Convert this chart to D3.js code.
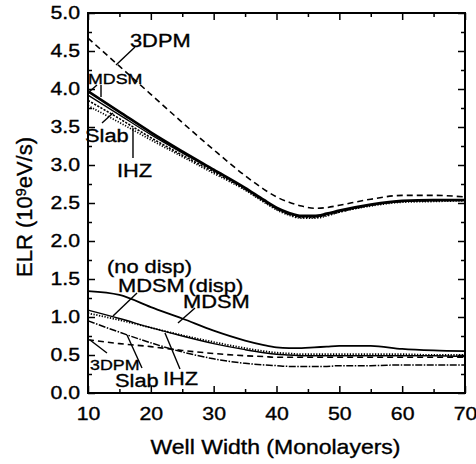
<!DOCTYPE html>
<html><head><meta charset="utf-8">
<script src="https://cdn.jsdelivr.net/npm/d3@7"></script>
<style>
html,body{margin:0;padding:0;background:#fff;}
svg{display:block;}
text{font-family:"Liberation Sans",Arial,Helvetica,sans-serif;fill:#000;stroke:#000;stroke-width:0.35px;}
</style></head>
<body><svg id="c" width="476" height="464"></svg>
<script>
// ---- data ----
const wellWidth = [10,15,20,25,30,35,38,40,42,44,46,48,50,55,60,65,70];
// upper group
const upMDSM     = [3.97,3.70,3.43,3.18,2.94,2.70,2.54,2.44,2.37,2.33,2.33,2.36,2.40,2.48,2.53,2.54,2.54];
const upMDSM2    = [3.92,3.66,3.40,3.16,2.93,2.69,2.53,2.43,2.36,2.32,2.32,2.35,2.39,2.47,2.52,2.53,2.53];
const upSlab     = [3.85,3.61,3.36,3.13,2.91,2.68,2.52,2.42,2.35,2.31,2.31,2.34,2.38,2.47,2.52,2.53,2.54];
const upIHZ      = [3.78,3.56,3.33,3.11,2.89,2.67,2.51,2.41,2.34,2.30,2.30,2.33,2.38,2.46,2.51,2.52,2.53];
const up3DPM     = [4.67,4.30,3.93,3.56,3.20,2.86,2.68,2.58,2.51,2.46,2.43,2.44,2.47,2.55,2.60,2.60,2.58];
// lower group
const loMDSMdisp   = [1.34,1.29,1.13,0.98,0.82,0.69,0.63,0.60,0.59,0.59,0.60,0.61,0.62,0.62,0.58,0.56,0.55];
const loMDSMnodisp = [1.09,0.98,0.86,0.75,0.65,0.57,0.53,0.51,0.50,0.49,0.49,0.49,0.49,0.49,0.49,0.49,0.48];
const loIHZ        = [1.05,0.96,0.86,0.76,0.67,0.59,0.55,0.53,0.52,0.51,0.51,0.51,0.51,0.51,0.51,0.50,0.50];
const lo3DPM       = [0.70,0.65,0.61,0.56,0.52,0.49,0.48,0.47,0.47,0.47,0.47,0.47,0.47,0.47,0.47,0.47,0.47];
const loSlab       = [0.95,0.80,0.66,0.54,0.45,0.39,0.37,0.36,0.35,0.35,0.35,0.35,0.36,0.36,0.37,0.37,0.37];

const xTicks = [10,20,30,40,50,60,70];
const xMinor = [15,25,35,45,55,65];
const yTicks = [0,0.5,1,1.5,2,2.5,3,3.5,4,4.5,5];
const yMinor = [0.25,0.75,1.25,1.75,2.25,2.75,3.25,3.75,4.25,4.75];

// annotation labels: [text, x, y] in data units
const labels = [
  ["3DPM", 16.68, 4.553, "big"],
  ["MDSM", 10.0, 4.066, "small"],
  ["Slab", 9.52, 3.303, "big"],
  ["IHZ", 14.62, 2.842, "big"],
  ["(no disp)", 13.02, 1.579, "big"],
  ["MDSM", 14.77, 1.329, "big"],
  ["(disp)", 26.0, 1.329, "big"],
  ["MDSM", 25.12, 1.118, "big"],
  ["3DPM", 10.32, 0.303, "small"],
  ["Slab", 14.30, 0.079, "big"],
  ["IHZ", 21.94, 0.105, "big"]
];
// leader lines: [x1,y1,x2,y2] in data units
const leaders = [
  [17.48,4.553,14.46,4.316],
  [11.43,4.053,10.16,3.961],
  [12.07,4.053,12.07,3.895],
  [12.23,3.553,13.98,3.684],
  [17.16,3.487,17.16,3.092],
  [17.80,1.316,13.98,1.013],
  [27.03,1.118,24.32,0.921],
  [13.02,0.526,10.32,0.697],
  [18.59,0.329,16.21,0.763],
  [24.64,0.316,22.25,0.789]
];

// ---- layout ----
const W = 476, H = 464;
const m = {left:88, top:13, right:11, bottom:71};
const SX = 1.15; // horizontal glyph stretch
const svg = d3.select("#c");
const x = d3.scaleLinear().domain([10,70]).range([m.left, W-m.right]);
const y = d3.scaleLinear().domain([0,5]).range([H-m.bottom, m.top]);

const series = [
  {v:up3DPM, w:1.6, dash:"6,4"},
  {v:upIHZ, w:1.7, dash:"1.2,1.6"},
  {v:upSlab, w:1.6, dash:"2.2,1.4"},
  {v:upMDSM2, w:1.3, dash:null},
  {v:upMDSM, w:2.6, dash:null},
  {v:loSlab, w:1.5, dash:"7,1.5,1.5,1.5"},
  {v:lo3DPM, w:1.6, dash:"6,4"},
  {v:loIHZ, w:1.8, dash:"1.3,1.5"},
  {v:loMDSMnodisp, w:1.4, dash:null},
  {v:loMDSMdisp, w:1.8, dash:null}
];
const line = d3.line().x((d,i)=>x(wellWidth[i])).y(d=>y(d)).curve(d3.curveMonotoneX);
const g = svg.append("g");
series.forEach(s=>{
  g.append("path").datum(s.v).attr("d",line)
   .attr("fill","none").attr("stroke","#000").attr("stroke-width",s.w)
   .attr("stroke-dasharray",s.dash).attr("stroke-linejoin","round");
});

// axes
function styleAxis(sel){ sel.select(".domain").remove(); sel.selectAll("line").attr("stroke","#000").attr("stroke-width",1.5); }
const bot = svg.append("g").attr("transform",`translate(0,${y(0)})`)
  .call(d3.axisBottom(x).tickValues(xTicks).tickSize(-7).tickPadding(14).tickFormat(d3.format("d")));
styleAxis(bot);
bot.selectAll("text").attr("font-size",18.5).attr("transform",`scale(${SX},1)`).attr("font-family",null);
svg.append("g").attr("transform",`translate(0,${y(0)})`)
  .call(d3.axisBottom(x).tickValues(xMinor).tickSize(-4).tickFormat("")).call(styleAxis);
svg.append("g").attr("transform",`translate(0,${y(5)})`)
  .call(d3.axisTop(x).tickValues(xTicks).tickSize(-7).tickFormat("")).call(styleAxis);
svg.append("g").attr("transform",`translate(0,${y(5)})`)
  .call(d3.axisTop(x).tickValues(xMinor).tickSize(-4).tickFormat("")).call(styleAxis);
const lef = svg.append("g").attr("transform",`translate(${x(10)},0)`)
  .call(d3.axisLeft(y).tickValues(yTicks).tickSize(-7).tickPadding(7).tickFormat(d3.format(".1f")));
styleAxis(lef);
lef.selectAll("text").attr("font-size",18.5).attr("transform",`scale(${SX},1)`).attr("font-family",null);
svg.append("g").attr("transform",`translate(${x(10)},0)`)
  .call(d3.axisLeft(y).tickValues(yMinor).tickSize(-4).tickFormat("")).call(styleAxis);
svg.append("g").attr("transform",`translate(${x(70)},0)`)
  .call(d3.axisRight(y).tickValues(yTicks).tickSize(-7).tickFormat("")).call(styleAxis);
svg.append("g").attr("transform",`translate(${x(70)},0)`)
  .call(d3.axisRight(y).tickValues(yMinor).tickSize(-4).tickFormat("")).call(styleAxis);

// frame
svg.append("rect").attr("x",x(10)).attr("y",y(5)).attr("width",x(70)-x(10)).attr("height",y(0)-y(5))
  .attr("fill","none").attr("stroke","#000").attr("stroke-width",2);

// titles
svg.append("text").attr("transform",`translate(${(x(10)+x(70))/2 - 1},454) scale(${SX},1)`)
  .attr("text-anchor","middle").attr("font-size",20).text("Well Width (Monolayers)");
const yt = svg.append("text").attr("transform",`translate(32,${(y(0)+y(5))/2+4}) rotate(-90)`)
  .attr("text-anchor","middle").attr("font-size",22);
yt.append("tspan").text("ELR (10");
yt.append("tspan").attr("dy","-0.45em").attr("font-size","0.65em").text("9");
yt.append("tspan").attr("dy","0.3em").text("eV/s)");

// annotations
leaders.forEach(l=>{
  svg.append("line").attr("x1",x(l[0])).attr("y1",y(l[1])).attr("x2",x(l[2])).attr("y2",y(l[3]))
    .attr("stroke","#000").attr("stroke-width",1.4);
});
labels.forEach(l=>{
  svg.append("text").attr("transform",`translate(${x(l[1])},${y(l[2])}) scale(${SX},1)`)
    .attr("font-size", l[3]==="big"?19:15.5).text(l[0]);
});
</script></body></html>
